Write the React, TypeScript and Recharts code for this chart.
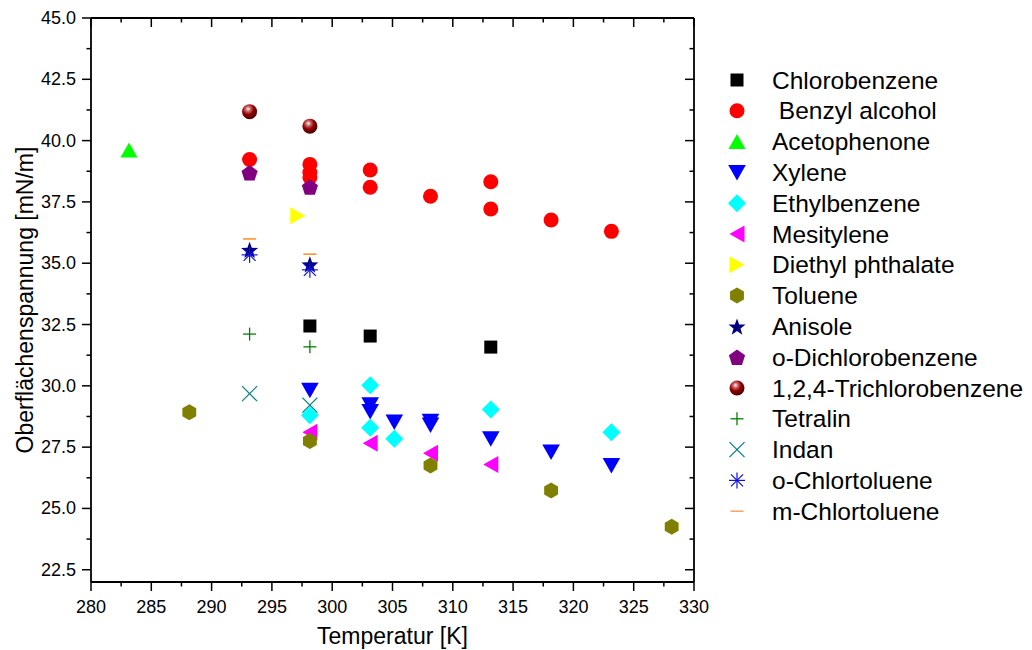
import React from "react";
import { ScatterChart, Scatter, XAxis, YAxis } from "recharts";

// surface tension [mN/m] vs temperature [K]
const chlorobenzene = [[298.15, 32.44], [303.15, 32.03], [313.15, 31.58]];
const benzylAlcohol = [
  [293.15, 39.23], [298.15, 39.03], [298.15, 38.7], [298.15, 38.5],
  [303.15, 38.8], [303.15, 38.1], [308.15, 37.73], [313.15, 38.32],
  [313.15, 37.21], [318.15, 36.76], [323.15, 36.3],
];
const acetophenone = [[283.15, 39.62]];
const xylene = [
  [298.15, 29.82], [303.15, 29.23], [303.15, 28.95], [305.15, 28.52],
  [308.15, 28.56], [308.15, 28.4], [313.15, 27.84], [318.15, 27.3], [323.15, 26.75],
];
const ethylbenzene = [
  [298.15, 28.8], [303.15, 30.02], [303.15, 28.29], [305.15, 27.84],
  [313.15, 29.03], [323.15, 28.11],
];
const mesitylene = [[298.15, 28.11], [303.15, 27.66], [308.15, 27.25], [313.15, 26.79]];
const diethylPhthalate = [[297.15, 36.94]];
const toluene = [[288.15, 28.92], [298.15, 27.75], [308.15, 26.75], [318.15, 25.73], [328.15, 24.25]];
const anisole = [[293.15, 35.55], [298.15, 34.96]];
const oDichlorobenzene = [[293.15, 38.69], [298.15, 38.11]];
const trichlorobenzene = [[293.15, 41.18], [298.15, 40.59]];
const tetralin = [[293.15, 32.11], [298.15, 31.59]];
const indan = [[293.15, 29.68], [298.15, 29.21]];
const oChlortoluene = [[293.15, 35.34], [298.15, 34.73]];
const mChlortoluene = [[293.15, 35.99], [298.15, 35.37]];

const xTicks = [280, 282.5, 285, 287.5, 290, 292.5, 295, 297.5, 300, 302.5, 305, 307.5, 310, 312.5, 315, 317.5, 320, 322.5, 325, 327.5, 330];
const yTicks = [22.5, 23.75, 25, 26.25, 27.5, 28.75, 30, 31.25, 32.5, 33.75, 35, 36.25, 37.5, 38.75, 40, 41.25, 42.5, 43.75, 45];

const series = [
  { name: "Chlorobenzene", data: chlorobenzene, kind: "square", color: "#000000" },
  { name: " Benzyl alcohol", data: benzylAlcohol, kind: "circle", color: "#ff0000" },
  { name: "Acetophenone", data: acetophenone, kind: "triUp", color: "#00ff00" },
  { name: "Xylene", data: xylene, kind: "triDown", color: "#0000ff" },
  { name: "Ethylbenzene", data: ethylbenzene, kind: "diamond", color: "#00ffff" },
  { name: "Mesitylene", data: mesitylene, kind: "triLeft", color: "#ff00ff" },
  { name: "Diethyl phthalate", data: diethylPhthalate, kind: "triRight", color: "#ffff00" },
  { name: "Toluene", data: toluene, kind: "hexagon", color: "#808000" },
  { name: "Anisole", data: anisole, kind: "star", color: "#000080" },
  { name: "o-Dichlorobenzene", data: oDichlorobenzene, kind: "pentagon", color: "#800080" },
  { name: "1,2,4-Trichlorobenzene", data: trichlorobenzene, kind: "sphere", color: "#800000" },
  { name: "Tetralin", data: tetralin, kind: "plus", color: "#008000" },
  { name: "Indan", data: indan, kind: "cross", color: "#008080" },
  { name: "o-Chlortoluene", data: oChlortoluene, kind: "asterisk", color: "#1010e0" },
  { name: "m-Chlortoluene", data: mChlortoluene, kind: "dash", color: "#ff8c1a" },
];

const FONT = "'Liberation Sans', Arial, sans-serif";

const poly = (cx: number, cy: number, r: number, n: number, start: number) =>
  Array.from({ length: n }, (_, i) => {
    const a = ((start + (360 / n) * i) * Math.PI) / 180;
    return `${cx + r * Math.cos(a)},${cy + r * Math.sin(a)}`;
  }).join(" ");

function marker(kind: string, cx: number, cy: number, color: string) {
  switch (kind) {
    case "square":
      return <rect x={cx - 6.5} y={cy - 6.5} width={13} height={13} fill={color} />;
    case "circle":
      return <circle cx={cx} cy={cy} r={7.5} fill={color} />;
    case "triUp":
      return <polygon points={`${cx},${cy - 7.5} ${cx + 8.5},${cy + 7.5} ${cx - 8.5},${cy + 7.5}`} fill={color} />;
    case "triDown":
      return <polygon points={`${cx - 8.8},${cy - 7.5} ${cx + 8.8},${cy - 7.5} ${cx},${cy + 8}`} fill={color} />;
    case "triLeft":
      return <polygon points={`${cx - 7.5},${cy} ${cx + 7.5},${cy - 8.5} ${cx + 7.5},${cy + 8.5}`} fill={color} />;
    case "triRight":
      return <polygon points={`${cx + 7.5},${cy} ${cx - 7.5},${cy - 8.5} ${cx - 7.5},${cy + 8.5}`} fill={color} />;
    case "diamond":
      return <polygon points={`${cx},${cy - 9} ${cx + 9},${cy} ${cx},${cy + 9} ${cx - 9},${cy}`} fill={color} />;
    case "hexagon":
      return <polygon points={poly(cx, cy, 8, 6, -90)} fill={color} />;
    case "pentagon":
      return <polygon points={poly(cx, cy + 0.8, 8.5, 5, -90)} fill={color} />;
    case "star": {
      const pts = Array.from({ length: 10 }, (_, i) => {
        const r = i % 2 === 0 ? 9 : 3.7;
        const a = ((-90 + 36 * i) * Math.PI) / 180;
        return `${cx + r * Math.cos(a)},${cy + 1 + r * Math.sin(a)}`;
      }).join(" ");
      return <polygon points={pts} fill={color} />;
    }
    case "sphere":
      return (
        <g>
          <defs>
            <radialGradient id="sphereGrad" cx="0.4" cy="0.32" r="0.68">
              <stop offset="0" stopColor="#ffffff" />
              <stop offset="0.22" stopColor="#d07070" />
              <stop offset="0.55" stopColor="#900000" />
              <stop offset="1" stopColor="#4a0000" />
            </radialGradient>
          </defs>
          <circle cx={cx} cy={cy} r={7.5} fill="url(#sphereGrad)" />
        </g>
      );
    case "plus":
      return (
        <g stroke={color} strokeWidth={1.3}>
          <line x1={cx - 6.5} x2={cx + 6.5} y1={cy} y2={cy} />
          <line x1={cx} x2={cx} y1={cy - 6.5} y2={cy + 6.5} />
        </g>
      );
    case "cross":
      return (
        <g stroke={color} strokeWidth={1.2}>
          <line x1={cx - 7.5} x2={cx + 7.5} y1={cy - 7.5} y2={cy + 7.5} />
          <line x1={cx - 7.5} x2={cx + 7.5} y1={cy + 7.5} y2={cy - 7.5} />
        </g>
      );
    case "asterisk":
      return (
        <g stroke={color} strokeWidth={1.2}>
          <line x1={cx - 8} x2={cx + 8} y1={cy} y2={cy} />
          <line x1={cx} x2={cx} y1={cy - 8} y2={cy + 8} />
          <line x1={cx - 6} x2={cx + 6} y1={cy - 6} y2={cy + 6} />
          <line x1={cx - 6} x2={cx + 6} y1={cy + 6} y2={cy - 6} />
        </g>
      );
    case "dash":
      return <line x1={cx - 6.5} x2={cx + 6.5} y1={cy} y2={cy} stroke={color} strokeWidth={1.5} />;
    default:
      return null;
  }
}

const isMajorX = (v: number) => v % 5 === 0;
const isMajorY = (v: number) => (v * 2) % 5 === 0;

const BottomTick = (p: any) => {
  const v = p.payload.value;
  const major = isMajorX(v);
  return (
    <g>
      <line x1={p.x} x2={p.x} y1={p.y} y2={p.y + (major ? 9 : 4.5)} stroke="#000" strokeWidth={1.5} />
      {major && (
        <text x={p.x} y={p.y + 25} textAnchor="middle" dominantBaseline="central" fontSize={18} fontFamily={FONT} fill="#000">
          {v}
        </text>
      )}
    </g>
  );
};

const TopTick = (p: any) => {
  const major = isMajorX(p.payload.value);
  return <line x1={p.x} x2={p.x} y1={p.y} y2={p.y + (major ? 9 : 4.5)} stroke="#000" strokeWidth={1.5} />;
};

const LeftTick = (p: any) => {
  const v = p.payload.value;
  const major = isMajorY(v);
  return (
    <g>
      <line x1={p.x - (major ? 9 : 4.5)} x2={p.x} y1={p.y} y2={p.y} stroke="#000" strokeWidth={1.5} />
      {major && (
        <text x={p.x - 15} y={p.y} textAnchor="end" dominantBaseline="central" fontSize={18} fontFamily={FONT} fill="#000">
          {v.toFixed(1)}
        </text>
      )}
    </g>
  );
};

const RightTick = (p: any) => {
  const major = isMajorY(p.payload.value);
  return <line x1={p.x - (major ? 9 : 4.5)} x2={p.x} y1={p.y} y2={p.y} stroke="#000" strokeWidth={1.5} />;
};

const YTitle = (props: any) => {
  const vb = props.viewBox;
  const cx = vb.x + 17;
  const cy = vb.y + vb.height / 2;
  return (
    <text x={cx} y={cy} transform={`rotate(-90 ${cx} ${cy})`} textAnchor="middle" dominantBaseline="central" fontSize={23} fontFamily={FONT} fill="#000">
      Oberflächenspannung [mN/m]
    </text>
  );
};

const XTitle = (props: any) => {
  const vb = props.viewBox;
  return (
    <text x={vb.x + vb.width / 2} y={vb.y + 54} textAnchor="middle" dominantBaseline="central" fontSize={23} fontFamily={FONT} fill="#000">
      Temperatur [K]
    </text>
  );
};

const axisLine = { stroke: "#000", strokeWidth: 1.8 };

export default function App() {
  return (
    <div style={{ position: "relative", width: 1016, height: 642 }}>
      <ScatterChart width={1016} height={642} margin={{ top: 10, right: 330, bottom: 8, left: 0 }}>
        <XAxis
          xAxisId={0}
          type="number"
          dataKey="x"
          domain={[280, 330]}
          ticks={xTicks}
          interval={0}
          height={60}
          tickSize={0}
          tickMargin={0}
          tick={<BottomTick />}
          axisLine={axisLine}
          label={<XTitle />}
          allowDataOverflow
        />
        <XAxis
          xAxisId="top"
          orientation="top"
          type="number"
          dataKey="x"
          domain={[280, 330]}
          ticks={xTicks}
          interval={0}
          height={1}
          mirror
          tickSize={0}
          tickMargin={0}
          tick={<TopTick />}
          axisLine={axisLine}
          allowDataOverflow
        />
        <YAxis
          yAxisId={0}
          type="number"
          dataKey="y"
          domain={[22, 45]}
          ticks={yTicks}
          interval={0}
          width={83}
          tickSize={0}
          tickMargin={0}
          tick={<LeftTick />}
          axisLine={axisLine}
          label={<YTitle />}
          allowDataOverflow
        />
        <YAxis
          yAxisId="right"
          orientation="right"
          type="number"
          dataKey="y"
          domain={[22, 45]}
          ticks={yTicks}
          interval={0}
          width={1}
          mirror
          tickSize={0}
          tickMargin={0}
          tick={<RightTick />}
          axisLine={axisLine}
          allowDataOverflow
        />
        {series.map((s) => (
          <Scatter
            key={s.name}
            name={s.name}
            data={s.data.map(([x, y]) => ({ x, y }))}
            xAxisId={0}
            yAxisId={0}
            isAnimationActive={false}
            shape={(props: any) => marker(s.kind, props.cx, props.cy, s.color)}
          />
        ))}
        {/* invisible series that keeps the frame axes (top/right) alive */}
        <Scatter
          data={toluene.map(([x, y]) => ({ x, y }))}
          xAxisId="top"
          yAxisId="right"
          isAnimationActive={false}
          shape={() => <g />}
        />
      </ScatterChart>
      <svg width={1016} height={642} style={{ position: "absolute", left: 0, top: 0, pointerEvents: "none" }}>
        {series.map((s, i) => {
          const y = 72 + i * 30.8;
          return (
            <g key={s.name}>
              {marker(s.kind, 729, y, s.kind === "dash" ? "#ffa060" : s.color)}
              <text x={764} y={y} dominantBaseline="central" fontSize={24.5} fontFamily={FONT} fill="#000" style={{ whiteSpace: "pre" }}>
                {s.name}
              </text>
            </g>
          );
        })}
      </svg>
    </div>
  );
}
